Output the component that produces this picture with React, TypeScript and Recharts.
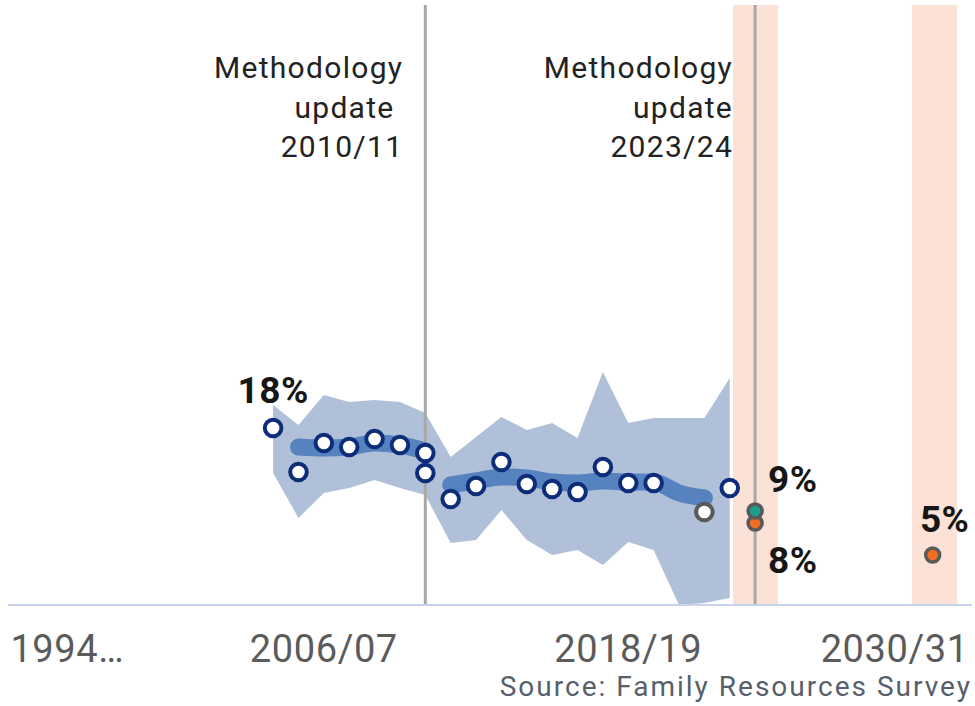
import React from "react";
import {
  ComposedChart, Area, Line, Scatter, XAxis, YAxis, ReferenceLine, ReferenceArea,
} from "recharts";

// confidence band, 2004/05 .. 2022/23 (start year)
const bandYears = [2004, 2005, 2006, 2007, 2008, 2009, 2010, 2011, 2012, 2013, 2014, 2015, 2016, 2017, 2018, 2019, 2020, 2021, 2022];
const bandLow = [13.2, 8.7, 11.2, 11.7, 12.5, 11.7, 11.0, 6.2, 6.5, 9.5, 6.5, 5.0, 5.5, 4.0, 6.3, 5.5, 0.0, 0.2, 0.7];
const bandHigh = [20.0, 18.0, 21.0, 20.3, 20.5, 20.3, 19.2, 14.8, 16.8, 18.8, 17.5, 18.2, 16.7, 23.3, 18.2, 18.7, 18.7, 18.7, 22.7];

// smoothed trend, split at the 2010/11 methodology change
const trendYearsBefore = [2005, 2006, 2007, 2008, 2009, 2010];
const trendBefore = [15.8, 15.7, 15.8, 16.2, 16.0, 15.4];
const trendYearsAfter = [2011, 2012, 2013, 2014, 2015, 2016, 2017, 2018, 2019, 2020, 2021];
const trendAfter = [12.0, 12.4, 12.8, 12.7, 12.3, 12.2, 12.4, 12.3, 12.3, 11.2, 10.7];

// survey estimates (2010/11 on both methodologies, no 2020/21)
const pointYears = [2004, 2005, 2006, 2007, 2008, 2009, 2010, 2010, 2011, 2012, 2013, 2014, 2015, 2016, 2017, 2018, 2019, 2022];
const pointValues = [17.7, 13.3, 16.2, 15.8, 16.6, 16.0, 15.2, 13.2, 10.6, 11.9, 14.3, 12.1, 11.6, 11.3, 13.8, 12.2, 12.2, 11.7];
const pointLabels = ["18%", "", "", "", "", "", "", "", "", "", "", "", "", "", "", "", "", ""];

const provisionalYears = [2021];
const provisionalValues = [9.3];

const tealYears = [2023];
const tealValues = [9.4];
const tealLabels = ["9%"];

const orangeYears = [2023, 2030];
const orangeValues = [8.2, 5.0];
const orangeLabels = ["8%", "5%"];

const methodYears = [2010, 2023];
const methodText = [["Methodology", "update ", "2010/11"], ["Methodology", "update", "2023/24"]];

const targetBands = [[2022.13, 2023.9], [2029.18, 2030.96]];

const tickYears = [1994, 2006, 2018, 2030];
const tickLabels = ["1994…", "2006/07", "2018/19", "2030/31"];

const bandData = bandYears.map((year, i) => ({ year, range: [bandLow[i], bandHigh[i]] }));
const toRows = (xs: number[], ys: number[], labels?: string[]) =>
  xs.map((year, i) => ({ year, value: ys[i], label: labels ? labels[i] : "" }));

const FONT = "Roboto, 'Noto Sans', sans-serif";

const labelPos: Record<string, { dx: number; dy: number; anchor: string }> = {
  "18%": { dx: 0, dy: -25, anchor: "middle" },
  "9%": { dx: 13, dy: -19, anchor: "start" },
  "8%": { dx: 13, dy: 50, anchor: "start" },
  "5%": { dx: 12, dy: -23, anchor: "middle" },
};

function makeDot(fill: string, stroke: string, r: number, sw: number) {
  return (props: any) => {
    const { cx, cy, payload } = props;
    const lab = payload && payload.label;
    const pos = lab ? labelPos[lab] : null;
    return (
      <g>
        <circle cx={cx} cy={cy} r={r} fill={fill} stroke={stroke} strokeWidth={sw} />
        {pos && (
          <text x={cx + pos.dx} y={cy + pos.dy} textAnchor={pos.anchor as any}
            fontFamily={FONT} fontWeight={700} fontSize={37} letterSpacing={0.5} fill="#161616">
            {lab}
          </text>
        )}
      </g>
    );
  };
}

function MethodLabel(props: any) {
  const { viewBox, lines } = props;
  if (!viewBox) return null;
  const x = viewBox.x - 22;
  const y0 = viewBox.y;
  return (
    <text textAnchor="end" fontFamily={FONT} fontSize={30} letterSpacing={1.3} fill="#222"
      style={{ whiteSpace: "pre" }}>
      {lines.map((t: string, i: number) => (
        <tspan key={i} x={x} y={y0 + 73 + i * 39.5}>{t}</tspan>
      ))}
    </text>
  );
}

function YearTick(props: any) {
  const { x, y, index } = props;
  const last = index === tickLabels.length - 1;
  const anchor = index === 0 ? "start" : last ? "end" : "middle";
  const dx = index === 0 ? -9 : last ? 36 : 0;
  return (
    <text x={x + dx} y={y + 57} textAnchor={anchor} fontFamily={FONT} fontSize={38}
      letterSpacing={0.6} fill="#5b5b5b">
      {tickLabels[index]}
    </text>
  );
}

export default function App() {
  return (
    <div style={{ position: "absolute", left: 0, top: 0, width: 975, height: 706, background: "#fff" }}>
      <ComposedChart width={975} height={706} data={bandData}
        margin={{ top: 5, right: 3, left: 8, bottom: 0 }}>
        <XAxis dataKey="year" type="number" domain={[1993.55, 2031.55]} ticks={tickYears}
          interval={0} height={101} tickLine={false} tickSize={0} tickMargin={0}
          axisLine={{ stroke: "#c8d2ee", strokeWidth: 2 }} tick={<YearTick />} />
        <YAxis hide domain={[0, 60]} />
        {targetBands.map(([a, b], i) => (
          <ReferenceArea key={"t" + i} x1={a} x2={b} y1={0} y2={60}
            fill="#fce1d6" fillOpacity={1} stroke="none" />
        ))}
        <Area dataKey="range" type="linear" fill="#b0c0d8" fillOpacity={1} stroke="none"
          isAnimationActive={false} />
        {methodYears.map((yr, i) => (
          <ReferenceLine key={"m" + i} x={yr} stroke="#a8a8a8" strokeWidth={3}
            label={<MethodLabel lines={methodText[i]} />} />
        ))}
        <Line data={toRows(trendYearsBefore, trendBefore)} dataKey="value" type="monotone"
          stroke="#5683bf" strokeWidth={17} strokeLinecap="round" dot={false}
          activeDot={false} isAnimationActive={false} />
        <Line data={toRows(trendYearsAfter, trendAfter)} dataKey="value" type="monotone"
          stroke="#5683bf" strokeWidth={17} strokeLinecap="round" dot={false}
          activeDot={false} isAnimationActive={false} />
        <Scatter data={toRows(pointYears, pointValues, pointLabels)} dataKey="value"
          shape={makeDot("#fff", "#0d2d7a", 8.3, 4)} isAnimationActive={false} />
        <Scatter data={toRows(provisionalYears, provisionalValues)} dataKey="value"
          shape={makeDot("#fff", "#5a5a5a", 8.3, 4)} isAnimationActive={false} />
        <Scatter data={toRows(orangeYears, orangeValues, orangeLabels)} dataKey="value"
          shape={makeDot("#f26d21", "#5a5a5a", 7, 3.5)} isAnimationActive={false} />
        <Scatter data={toRows(tealYears, tealValues, tealLabels)} dataKey="value"
          shape={makeDot("#1d9e8a", "#5a5a5a", 7, 3.5)} isAnimationActive={false} />
      </ComposedChart>
      <div style={{
        position: "absolute", left: 0, top: 673, width: 972, textAlign: "right",
        fontFamily: FONT, fontSize: 28, lineHeight: "28px", letterSpacing: 2, color: "#56606c",
      }}>
        Source: Family Resources Survey
      </div>
    </div>
  );
}
